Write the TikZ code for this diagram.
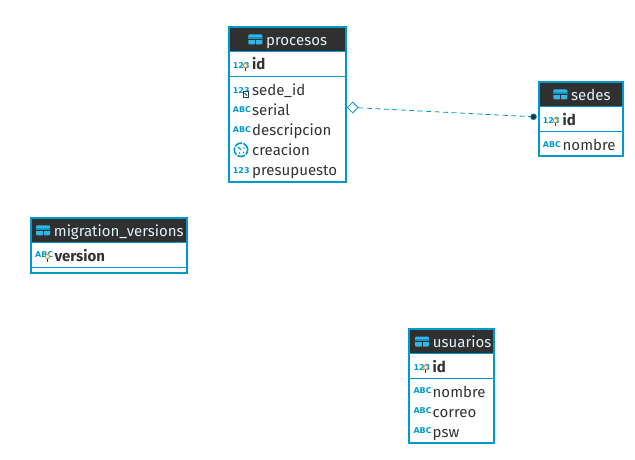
\documentclass[tikz,border=0pt]{standalone}
\usepackage{fontspec}
\setmainfont{Fira Sans}
\newfontfamily\tipofont{DejaVu Sans}
\usetikzlibrary{shapes.geometric}

\definecolor{azul}{HTML}{0099CC}
\definecolor{azulclaro}{HTML}{33B5E5}
\definecolor{oscuro}{HTML}{303030}
\definecolor{texto}{HTML}{333333}
\definecolor{llave}{HTML}{E8901C}
\definecolor{marino}{HTML}{1F3A5F}

\tikzset{
  tabla/.style={draw=azul, line width=2pt, fill=white, inner sep=0pt, outer sep=0pt, anchor=north west},
  cabecera/.style={fill=oscuro, inner sep=0pt, outer sep=0pt, anchor=north west},
  titulo/.style={anchor=base west, inner sep=0pt, text=white!88!azul, font=\fontsize{15}{16}\selectfont},
  campo/.style={anchor=base west, inner sep=0pt, text=texto, font=\fontsize{15}{16}\selectfont},
  campopk/.style={campo, font=\fontsize{15}{16}\selectfont\bfseries},
  tipo/.style={anchor=base west, inner sep=0pt, text=azul, font=\tipofont\fontsize{8}{9}\selectfont\bfseries},
  separa/.style={draw=azul, line width=1pt},
  relacion/.style={draw=azul, line width=0.8pt, dash pattern=on 5pt off 3.5pt},
}

% Caja de la tabla con su cabecera: nombre, x, y, ancho, alto, margen del icono, titulo
\newcommand{\tabla}[7]{
  \node[tabla, minimum width=#4pt, minimum height=#5pt] (#1) at (#2, #3) {};
  \node[cabecera, minimum width=#4pt-2pt, minimum height=24pt] (#1cab) at (#2+1, #3+1) {};
  \draw[azul, line width=1pt] (#2, #3+24.7) -- ++(#4, 0);
  \fill[azulclaro, rounded corners=1pt] (#2+#6, #3+7.3) rectangle ++(14, 10);
  \fill[azul] (#2+#6, #3+10) rectangle ++(14, 2);
  \draw[oscuro, line width=0.8pt] (#2+#6, #3+12.5) -- ++(14, 0) (#2+#6+7, #3+12.5) -- ++(0, 5);
  \node[titulo] (#1tit) at (#2+#6+17.7, #3+18.2) {#7};
}

% Bombilla de clave primaria
\newcommand{\llave}[2]{
  \draw[texto, line width=1.2pt] (#1, #2+2) -- ++(0, 3.2);
  \draw[llave, fill=white, line width=0.9pt] (#1, #2) circle (2.1pt);
}

\begin{document}
\begin{tikzpicture}[x=1pt, y=-1pt]

    \useasboundingbox (0, 0) rectangle (635, 459);

    % Tabla procesos
    \tabla{procesos}{229}{27}{116.7}{154.7}{19.3}{procesos}
    \draw[separa] (229, 76) -- (345.7, 76);
    \node[tipo] (procesosT1) at (232.7, 68) {123};
    \llave{245.3}{65.5}
    \node[campopk] (procesosId) at (252, 69.5) {id};
    \node[tipo] (procesosT2) at (232.7, 93) {123};
    \draw[marino, fill=white, line width=1pt] (243, 91.5) rectangle ++(5.5, 5.5);
    \draw[marino, line width=0.8pt] (244.5, 93) -- ++(2.5, 2.5);
    \node[campo] (procesosSede) at (252, 95) {sede\_id};
    \node[tipo] (procesosT3) at (232.7, 112) {ABC};
    \node[campo] (procesosSerial) at (252, 115) {serial};
    \node[tipo] (procesosT4) at (232.7, 132) {ABC};
    \node[campo] (procesosDesc) at (252, 135) {descripcion};
    \draw[azul, line width=1.6pt, dash pattern=on 8pt off 1.2pt] (241, 149.8) circle (6.7pt);
    \draw[azul, line width=1.2pt] (238, 147) -- (241, 149.8);
    \fill[azul] (244, 148) circle (0.8pt) (243.5, 152.5) circle (0.8pt) (239.5, 153) circle (0.8pt);
    \node[campo] (procesosCrea) at (252, 155) {creacion};
    \node[tipo] (procesosT6) at (232.7, 173) {123};
    \node[campo] (procesosPres) at (252, 175) {presupuesto};

    % Tabla sedes
    \tabla{sedes}{539.3}{82}{84}{74}{14}{sedes}
    \draw[separa] (539.3, 131) -- (623.3, 131);
    \node[tipo] (sedesT1) at (542.7, 123) {123};
    \llave{555.3}{120.5}
    \node[campopk] (sedesId) at (562.5, 125) {id};
    \node[tipo] (sedesT2) at (542.7, 147) {ABC};
    \node[campo] (sedesNombre) at (562.5, 150) {nombre};

    % Tabla migration_versions
    \tabla{migration}{31}{218}{155.7}{54.7}{5}{migration\_versions}
    \draw[separa] (31, 267) -- (186.7, 267);
    \node[tipo] (migrationT1) at (35, 257.5) {ABC};
    \llave{47.5}{256.5}
    \node[campopk] (migrationVersion) at (54.3, 261) {version};

    % Tabla usuarios
    \tabla{usuarios}{409.3}{329.2}{84.5}{113.8}{5.7}{usuarios}
    \draw[separa] (409.3, 378) -- (493.8, 378);
    \node[tipo] (usuariosT1) at (413.3, 370) {123};
    \llave{425.8}{367.5}
    \node[campopk] (usuariosId) at (432.5, 372) {id};
    \node[tipo] (usuariosT2) at (413.3, 393.7) {ABC};
    \node[campo] (usuariosNombre) at (432.5, 397) {nombre};
    \node[tipo] (usuariosT3) at (413.3, 413.7) {ABC};
    \node[campo] (usuariosCorreo) at (432.5, 417) {correo};
    \node[tipo] (usuariosT4) at (413.3, 433.7) {ABC};
    \node[campo] (usuariosPsw) at (432.5, 437) {psw};

    % Relacion entre procesos y sedes
    \node[diamond, draw=azul, fill=white, line width=0.8pt, inner sep=0pt, minimum size=11pt] (relDiamante) at (352.7, 107.5) {};
    \node[circle, fill=oscuro, draw=azul, line width=0.6pt, inner sep=0pt, minimum size=6pt] (relPunto) at (533.5, 116.8) {};
    \draw[relacion] (relDiamante) -- (relPunto);

\end{tikzpicture}
\end{document}
